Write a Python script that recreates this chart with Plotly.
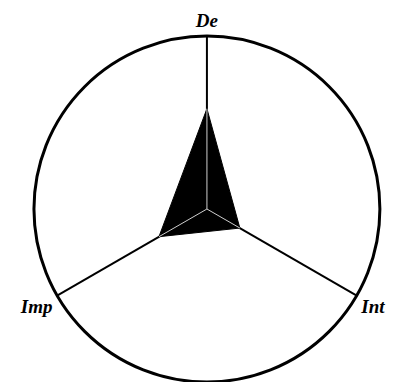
import plotly.graph_objects as go

# axis names, clockwise from the top
categories = ["De", "Int", "Imp"]
values = [2.9, 1.1, 1.6]
r_max = 5

theta_closed = categories + categories[:1]
r_closed = values + values[:1]

fig = go.Figure()

fig.add_trace(
    go.Scatterpolar(
        r=r_closed,
        theta=theta_closed,
        mode="lines",
        fill="toself",
        fillcolor="black",
        line=dict(color="black", width=1),
        hoverinfo="skip",
        showlegend=False,
    )
)

# light spokes showing through the filled shape
for cat, val in zip(categories, values):
    fig.add_trace(
        go.Scatterpolar(
            r=[0, val],
            theta=[cat, cat],
            mode="lines",
            line=dict(color="#cfcfcf", width=1),
            hoverinfo="skip",
            showlegend=False,
        )
    )

# page body adds an 8px offset, so the figure is a bit smaller than the window
fig.update_layout(
    width=387,
    height=374,
    margin=dict(l=0, r=0, t=0, b=0),
    paper_bgcolor="white",
    showlegend=False,
    polar=dict(
        domain=dict(x=[0.067, 0.961], y=[0.0, 0.925]),
        bgcolor="white",
        radialaxis=dict(visible=False, range=[0, r_max]),
        angularaxis=dict(
            rotation=90,
            direction="clockwise",
            showgrid=True,
            gridcolor="black",
            gridwidth=2,
            showline=True,
            linecolor="black",
            linewidth=3,
            ticks="",
            tickfont=dict(
                family="Liberation Serif, Times New Roman, serif",
                size=19,
                color="black",
                weight="bold",
                style="italic",
            ),
        ),
    ),
)

fig.write_html("out.html")
